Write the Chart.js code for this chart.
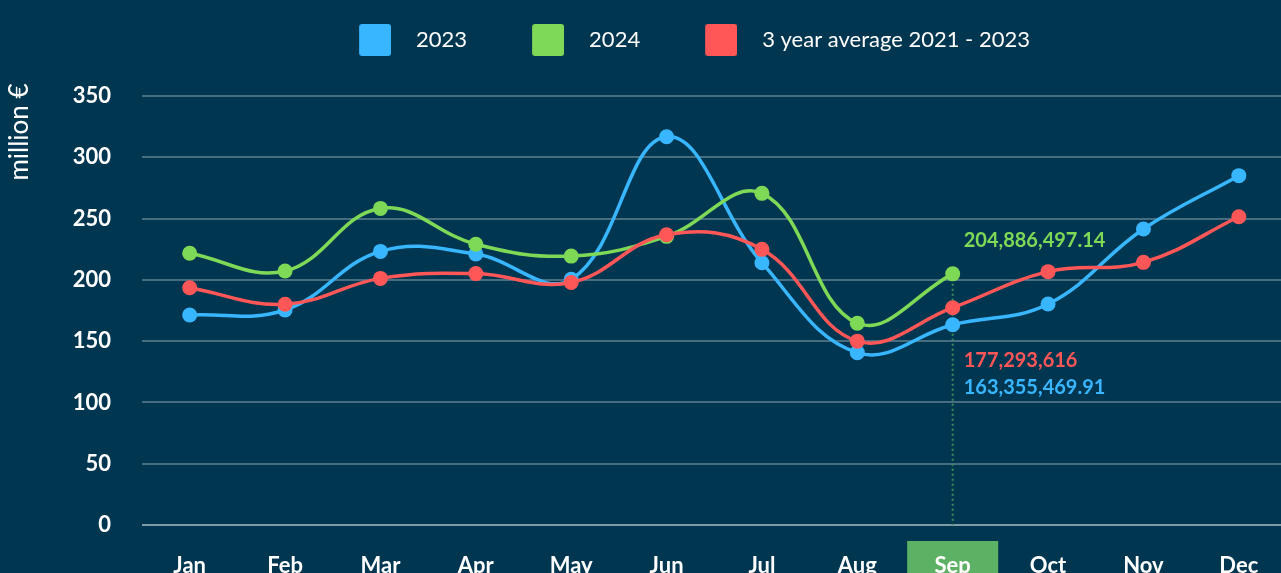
<!DOCTYPE html>
<html>
<head>
<meta charset="utf-8">
<script src="https://cdn.jsdelivr.net/npm/chart.js@4.4.1/dist/chart.umd.min.js"></script>
<style>
html,body{margin:0;padding:0;background:#013650;overflow:hidden;}
#c{position:absolute;left:0;top:0;}
</style>
</head>
<body>
<canvas id="c" width="1294" height="600" style="width:1294px;height:600px"></canvas>
<script>
// ---- data (million €) ----
const months = ['Jan','Feb','Mar','Apr','May','Jun','Jul','Aug','Sep','Oct','Nov','Dec'];
const yTickValues = [0,50,100,150,200,250,300,350];
const seriesLabels = ['2023','2024','3 year average 2021 - 2023'];
const values2023 = [171.3,175.4,223.2,221.1,200.4,316.8,214.0,140.6,163.35546991,180.3,241.5,285.0];
const values2024 = [221.7,207.2,258.3,229.1,219.4,235.5,270.6,164.6,204.88649714,null,null,null];
const valuesAvg  = [193.6,180.1,201.2,205.1,197.9,236.8,224.9,150.0,177.293616,206.7,214.3,251.5];
const highlightMonth = 'Sep';

const colors = ['#38b6ff','#7ed957','#ff5757'];
const BG = '#013650';
const FONT = 'Lato, "Open Sans", sans-serif';

function swatch(color){
  const c = document.createElement('canvas');
  c.width = 54; c.height = 32;
  const g = c.getContext('2d');
  g.fillStyle = color;
  g.beginPath();
  if (g.roundRect) g.roundRect(22,0,32,32,3); else g.rect(22,0,32,32);
  g.fill();
  return c;
}
const swatches = colors.map(swatch);

function fmt(v){
  return (v*1e6).toLocaleString('en-US',{maximumFractionDigits:2});
}

const hi = months.indexOf(highlightMonth);

const overlay = {
  id:'overlay',
  beforeDraw(chart){
    const {ctx} = chart;
    const x = chart.scales.x.getPixelForValue(hi);
    ctx.save();
    ctx.fillStyle = '#5db165';
    ctx.fillRect(x-45.5, 541, 91, chart.height-541);
    ctx.restore();
  },
  beforeDatasetsDraw(chart){
    const {ctx} = chart;
    const xs = chart.scales.x, ys = chart.scales.y;
    const x = xs.getPixelForValue(hi);
    ctx.save();
    ctx.strokeStyle = '#3d8d5b';
    ctx.lineWidth = 2;
    ctx.setLineDash([2,3]);
    ctx.beginPath();
    ctx.moveTo(x, ys.getPixelForValue(values2024[hi]));
    ctx.lineTo(x, ys.getPixelForValue(0));
    ctx.stroke();
    ctx.restore();
  },
  afterDatasetsDraw(chart){
    const {ctx} = chart;
    const xs = chart.scales.x, ys = chart.scales.y;
    const x = xs.getPixelForValue(hi) + 11;
    ctx.save();
    ctx.font = 'bold 20px ' + FONT;
    ctx.textAlign = 'left';
    ctx.textBaseline = 'middle';
    ctx.fillStyle = colors[1];
    ctx.fillText(fmt(values2024[hi]), x, ys.getPixelForValue(values2024[hi]) - 33);
    const by = ys.getPixelForValue(values2023[hi]);
    ctx.fillStyle = colors[2];
    ctx.fillText(fmt(valuesAvg[hi]), x, by + 36);
    ctx.fillStyle = colors[0];
    ctx.fillText(fmt(values2023[hi]), x, by + 63);
    // y axis title
    ctx.translate(20, 132);
    ctx.rotate(-Math.PI/2);
    ctx.textAlign = 'center';
    ctx.fillStyle = '#ffffff';
    ctx.font = '26px ' + FONT;
    ctx.fillText('million €', 0, 0);
    ctx.restore();
  }
};

function ds(label, data, color, order){
  return {
    label, data, order,
    borderColor: color, backgroundColor: color,
    pointBackgroundColor: color, pointBorderWidth: 0,
    pointRadius: 7.5, pointHoverRadius: 7.5,
    borderWidth: 3.5, tension: 0.4, fill: false, spanGaps: false
  };
}

new Chart(document.getElementById('c'), {
  type: 'line',
  data: {
    labels: months,
    datasets: [
      ds(seriesLabels[0], values2023, colors[0], 2),
      ds(seriesLabels[1], values2024, colors[1], 1),
      ds(seriesLabels[2], valuesAvg, colors[2], 0)
    ]
  },
  options: {
    responsive: false,
    maintainAspectRatio: false,
    animation: false,
    devicePixelRatio: 1,
    layout: { padding: { left: 59, right: 0, top: 0, bottom: 0 } },
    plugins: {
      tooltip: { enabled: false },
      title: {
        display: true, text: ' ', weight: 500, position: 'top',
        padding: 0, font: { size: 35, lineHeight: 1 }, color: BG
      },
      legend: {
        position: 'top', align: 'center', fullSize: true,
        labels: {
          usePointStyle: true, pointStyleWidth: 82, boxHeight: 22, padding: 29,
          color: '#ffffff', font: { family: FONT, size: 22 },
          generateLabels(chart){
            const items = Chart.defaults.plugins.legend.labels.generateLabels(chart);
            items.sort((a,b)=>a.datasetIndex-b.datasetIndex);
            items.forEach(it => { it.pointStyle = swatches[it.datasetIndex]; });
            return items;
          }
        }
      }
    },
    scales: {
      x: {
        offset: true,
        grid: { display: false, drawTicks: false },
        border: { display: false },
        ticks: { color: '#ffffff', font: { family: FONT, size: 22, weight: 'bold' }, padding: 28, maxRotation: 0 },
        afterFit(s){ s.height = 75; s.paddingLeft = 0; s.paddingRight = 0; }
      },
      y: {
        min: 0, max: 350,
        afterBuildTicks(s){ s.ticks = yTickValues.map(v => ({value: v})); },
        grid: {
          drawTicks: false, lineWidth: 2,
          color: c => c.tick && c.tick.value === 0 ? 'rgba(255,255,255,0.5)' : 'rgba(255,255,255,0.28)'
        },
        border: { display: false },
        ticks: { color: '#ffffff', font: { family: FONT, size: 22, weight: 'bold' }, padding: 31 },
        afterFit(s){ s.width = 83; }
      }
    }
  },
  plugins: [overlay]
});
</script>
</body>
</html>
